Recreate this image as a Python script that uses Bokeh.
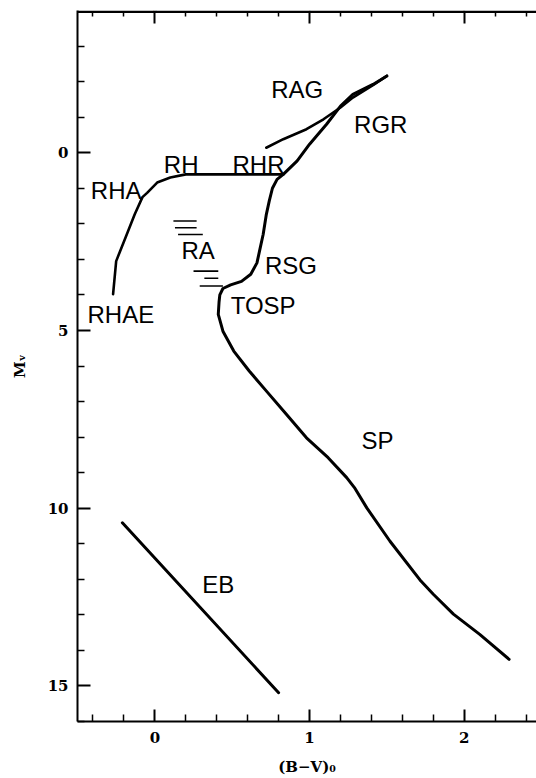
from bokeh.plotting import figure
from bokeh.models import Range1d, LinearAxis, FixedTicker, Span
from bokeh.core.properties import value
from bokeh.embed import file_html
from bokeh.resources import INLINE

# Schematic colour-magnitude diagram: (B-V)_0 against M_V

# main sequence -> turnoff -> subgiant -> red giant branch
sp_bv = [2.29, 2.10, 1.93, 1.80, 1.72, 1.52, 1.37, 1.29, 1.24, 1.12, 0.98, 0.85,
         0.72, 0.61, 0.51, 0.44, 0.41, 0.415, 0.42, 0.44, 0.49, 0.56, 0.62, 0.66,
         0.68, 0.70, 0.72, 0.74, 0.76, 0.79, 0.83, 0.92, 1.00, 1.11, 1.20, 1.28,
         1.41, 1.50]
sp_mv = [14.25, 13.55, 12.98, 12.42, 12.05, 10.93, 9.99, 9.42, 9.14, 8.58, 8.02, 7.36,
         6.70, 6.14, 5.58, 5.02, 4.55, 4.20, 4.00, 3.82, 3.72, 3.62, 3.42, 3.10,
         2.70, 2.30, 1.75, 1.35, 1.00, 0.75, 0.61, 0.23, -0.24, -0.80, -1.31, -1.64,
         -1.92, -2.16]

# asymptotic giant branch
rag_bv = [0.72, 0.83, 0.98, 1.09, 1.20, 1.28, 1.41, 1.50]
rag_mv = [-0.14, -0.38, -0.66, -0.94, -1.27, -1.55, -1.90, -2.16]

# horizontal branch, red part and blue tail
rh_bv = [0.83, 0.20, 0.10, 0.015, -0.05, -0.08, -0.13, -0.19, -0.25, -0.27]
rh_mv = [0.61, 0.61, 0.70, 0.84, 1.13, 1.25, 1.73, 2.39, 3.05, 3.98]

# lower sequence
eb_bv = [-0.21, 0.80]
eb_mv = [10.41, 15.19]

# short strokes around RA
ra_x0 = [0.12, 0.13, 0.15, 0.25, 0.32, 0.29]
ra_x1 = [0.27, 0.27, 0.31, 0.41, 0.41, 0.44]
ra_mv = [1.92, 2.11, 2.30, 3.33, 3.53, 3.75]

# region names
lab_text = ["RAG", "RGR", "RH", "RHR", "RHA", "RHAE", "RA", "RSG", "TOSP", "SP", "EB"]
lab_bv = [0.92, 1.46, 0.17, 0.67, -0.25, -0.22, 0.28, 0.88, 0.70, 1.44, 0.41]
lab_mv = [-1.78, -0.79, 0.34, 0.34, 1.06, 4.54, 2.74, 3.18, 4.30, 8.09, 12.14]

x_major = [0, 1, 2]
x_minor = [-0.4, -0.2, 0.2, 0.4, 0.6, 0.8, 1.2, 1.4, 1.6, 1.8, 2.2, 2.4]
y_major = [0, 5, 10, 15]
y_minor = [-3, -2, -1, 1, 2, 3, 4, 6, 7, 8, 9, 11, 12, 13, 14, 16]

X_LO, X_HI = -0.5, 2.467
Y_BOTTOM, Y_TOP = 16, -4
TOP_EDGE = Y_TOP + 0.04   # just inside the frame so the edge is drawn

p = figure(width=536, height=778, output_backend="svg", toolbar_location=None,
           x_range=Range1d(X_LO, X_HI), y_range=Range1d(Y_BOTTOM, Y_TOP),
           min_border_left=77, min_border_right=0, min_border_top=10,
           min_border_bottom=56)
p.outline_line_color = None
p.xgrid.visible = False
p.ygrid.visible = False
p.background_fill_color = "white"
p.border_fill_color = "white"

serif = "DejaVu Serif"
ink = "#000000"


def frame_axis(axis, major_len, minor_len, line=True):
    # inward ticks only
    axis.axis_line_width = 2
    axis.axis_line_color = ink if line else None
    axis.major_tick_in = major_len
    axis.major_tick_out = 0
    axis.minor_tick_in = minor_len
    axis.minor_tick_out = 0
    axis.major_tick_line_width = 2
    axis.minor_tick_line_width = 1.5
    axis.major_tick_line_color = ink
    axis.minor_tick_line_color = ink


xa = p.xaxis[0]
xa.ticker = FixedTicker(ticks=x_major, minor_ticks=x_minor)
xa.axis_label = "(B\u2212V)\u2080"
ya = p.yaxis[0]
ya.ticker = FixedTicker(ticks=y_major, minor_ticks=y_minor)
ya.axis_label = "M\u1d65"

for ax, tin in ((xa, 12), (ya, 13)):
    frame_axis(ax, tin, 7)
    ax.major_label_text_font = serif
    ax.major_label_text_font_style = "bold"
    ax.major_label_text_font_size = "15px"
    ax.major_label_text_color = ink
    ax.axis_label_text_font = serif
    ax.axis_label_text_font_style = "bold"
    ax.axis_label_text_font_size = "15px"
    ax.axis_label_text_color = ink
xa.major_label_standoff = 10
xa.axis_label_standoff = 12
ya.major_label_standoff = 9
ya.axis_label_standoff = 16

# top frame edge with inward ticks
top = LinearAxis(ticker=FixedTicker(ticks=x_major, minor_ticks=x_minor),
                 fixed_location=TOP_EDGE)
frame_axis(top, 12, 5)
top.major_label_overrides = {str(t): " " for t in x_major}
top.major_label_standoff = 0
top.major_label_text_font_size = "6px"
p.add_layout(top, "above")
p.add_layout(Span(location=TOP_EDGE, dimension="width", line_color=ink, line_width=2))

p.line(sp_bv, sp_mv, line_color=ink, line_width=3, line_join="round", line_cap="round")
p.line(rag_bv, rag_mv, line_color=ink, line_width=2.6, line_join="round", line_cap="round")
p.line(rh_bv, rh_mv, line_color=ink, line_width=2.6, line_join="round", line_cap="round")
p.line(eb_bv, eb_mv, line_color=ink, line_width=3, line_cap="round")
p.segment(x0=ra_x0, y0=ra_mv, x1=ra_x1, y1=ra_mv, line_color=ink, line_width=1.6)

p.text(x=lab_bv, y=lab_mv, text=lab_text, text_align="center",
       text_baseline="middle", text_font=value("Liberation Sans"),
       text_font_size="24px", text_color=ink)

open("out.html", "w").write(file_html(p, INLINE))
